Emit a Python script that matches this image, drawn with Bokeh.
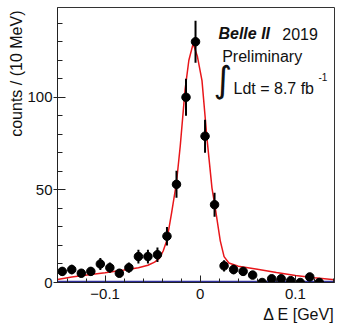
from bokeh.plotting import figure
from bokeh.models import Range1d, FixedTicker, Label, ColumnDataSource, Title
from bokeh.embed import file_html
from bokeh.resources import INLINE

# ---- data ----
bin_centers = [-0.145, -0.135, -0.125, -0.115, -0.105, -0.095, -0.085, -0.075,
               -0.065, -0.055, -0.045, -0.035, -0.025, -0.015, -0.005, 0.005,
               0.015, 0.025, 0.035, 0.045, 0.055, 0.065, 0.075, 0.085,
               0.095, 0.105, 0.115, 0.125]
counts = [6, 7, 5, 6, 10, 8, 5, 8, 14, 14, 15, 25, 53, 100, 130, 79,
          42, 9, 7, 6, 4, 0, 2, 2, 1, 0, 3, 0]
count_err = [2.4, 2.6, 2.2, 2.4, 3.2, 2.8, 2.2, 2.8, 3.7, 3.7, 3.9, 5.0, 7.3, 10.0,
             11.4, 8.9, 6.5, 3.0, 2.6, 2.4, 2.0, 0.0, 1.4, 1.4, 1.0, 0.0, 1.7, 0.0]

fit_x = [-0.150, -0.135, -0.115, -0.100, -0.080, -0.065, -0.055, -0.048, -0.043,
         -0.039, -0.035, -0.030, -0.025, -0.021, -0.016, -0.012, -0.0075, -0.003,
         0.0018, 0.007, 0.0123, 0.0158, 0.021, 0.025, 0.030, 0.040, 0.060, 0.080,
         0.100, 0.120, 0.141]
fit_y = [1.6, 3.0, 4.3, 5.3, 6.7, 8.0, 9.3, 11.0, 13.0,
         17.0, 23.0, 38.0, 54.0, 74.0, 104.0, 120.0, 129.0, 122.0,
         109.0, 78.0, 51.0, 40.0, 22.5, 14.0, 10.5, 8.8, 7.2, 5.4,
         3.8, 2.6, 1.5]

bkg_x = [-0.150, 0.141]
bkg_y = [0.3, 0.3]

x_major = [-0.1, 0.0, 0.1]
x_minor = [-0.14, -0.12, -0.08, -0.06, -0.04, -0.02, 0.02, 0.04, 0.06, 0.08, 0.12, 0.14]
x_tick_labels = {-0.1: "\u22120.1", 0.0: "0", 0.1: "0.1"}
y_major = [0, 50, 100]
y_minor = [10, 20, 30, 40, 60, 70, 80, 90, 110, 120, 130, 140]
y_tick_labels = {0: "0", 50: "50", 100: "100"}

x_title = "\u0394 E [GeV]"
y_title = "counts / (10 MeV)"

FONT = "Liberation Sans"

p = figure(width=341, height=327, output_backend="svg", toolbar_location=None,
           x_range=Range1d(-0.15, 0.141), y_range=Range1d(0, 148.5),
           min_border_left=57, min_border_right=7, min_border_top=7, min_border_bottom=45)
p.grid.visible = False
p.background_fill_color = "white"
p.border_fill_color = "white"
p.outline_line_color = "#333333"
p.outline_line_width = 1

# axes
p.xaxis.ticker = FixedTicker(ticks=x_major, minor_ticks=x_minor)
p.yaxis.ticker = FixedTicker(ticks=y_major, minor_ticks=y_minor)
p.xaxis.major_label_overrides = x_tick_labels
p.yaxis.major_label_overrides = y_tick_labels
for ax in (p.xaxis[0], p.yaxis[0]):
    ax.major_label_text_font = FONT
    ax.major_label_text_font_size = "15px"
    ax.major_label_text_color = "#111111"
    ax.axis_line_color = "#222222"
    ax.major_tick_line_color = "#222222"
    ax.minor_tick_line_color = "#222222"
    ax.major_tick_in = 8
    ax.minor_tick_in = 5
    ax.minor_tick_out = 0
p.xaxis.major_tick_out = 0
p.xaxis.major_tick_in = 7
p.xaxis.minor_tick_in = 4
p.xaxis.major_label_standoff = 6
p.yaxis.major_tick_out = 4
p.yaxis.major_label_standoff = 1

# axis titles (ROOT style: aligned to the axis end)
p.add_layout(Title(text=y_title, align="right", text_font=FONT, text_font_size="16px",
                   text_font_style="normal", text_color="#111111", standoff=0, offset=3), "left")
p.add_layout(Title(text=x_title, align="right", text_font=FONT, text_font_size="16px",
                   text_font_style="normal", text_color="#111111", standoff=4, offset=0), "below")

# background component (blue) and full fit (red)
p.line(bkg_x, bkg_y, line_color="#2e2e9a", line_width=2.5)
p.line(fit_x, fit_y, line_color="#e8161a", line_width=1.5)

# data points with error bars
lo = [c - e for c, e in zip(counts, count_err)]
hi = [c + e for c, e in zip(counts, count_err)]
src = ColumnDataSource(dict(x=bin_centers, y=counts, lo=lo, hi=hi))
p.segment(x0="x", y0="lo", x1="x", y1="hi", source=src, line_color="black", line_width=2)
p.scatter(x="x", y="y", source=src, size=8.5, fill_color="black", line_color="black")

# texts
def lab(x, y, text, size, style="normal", align="left", baseline="alphabetic", font=FONT):
    p.add_layout(Label(x=x, y=y, text=text, text_font=font, text_font_size=size,
                       text_font_style=style, text_align=align, text_baseline=baseline,
                       text_color="#111111"))

lab(0.0191, 134.3, "Belle II", "16px", style="bold italic")
lab(0.0861, 134.3, "2019", "16px")
lab(0.023, 122.0, "Preliminary", "16px")
lab(0.0139, 109.6, "\u222b", "36px", font="DejaVu Sans")
lab(0.0349, 104.6, "Ldt = 8.7 fb", "16px")
lab(0.1242, 111.2, "-1", "10px")

open("out.html", "w").write(file_html(p, INLINE))
